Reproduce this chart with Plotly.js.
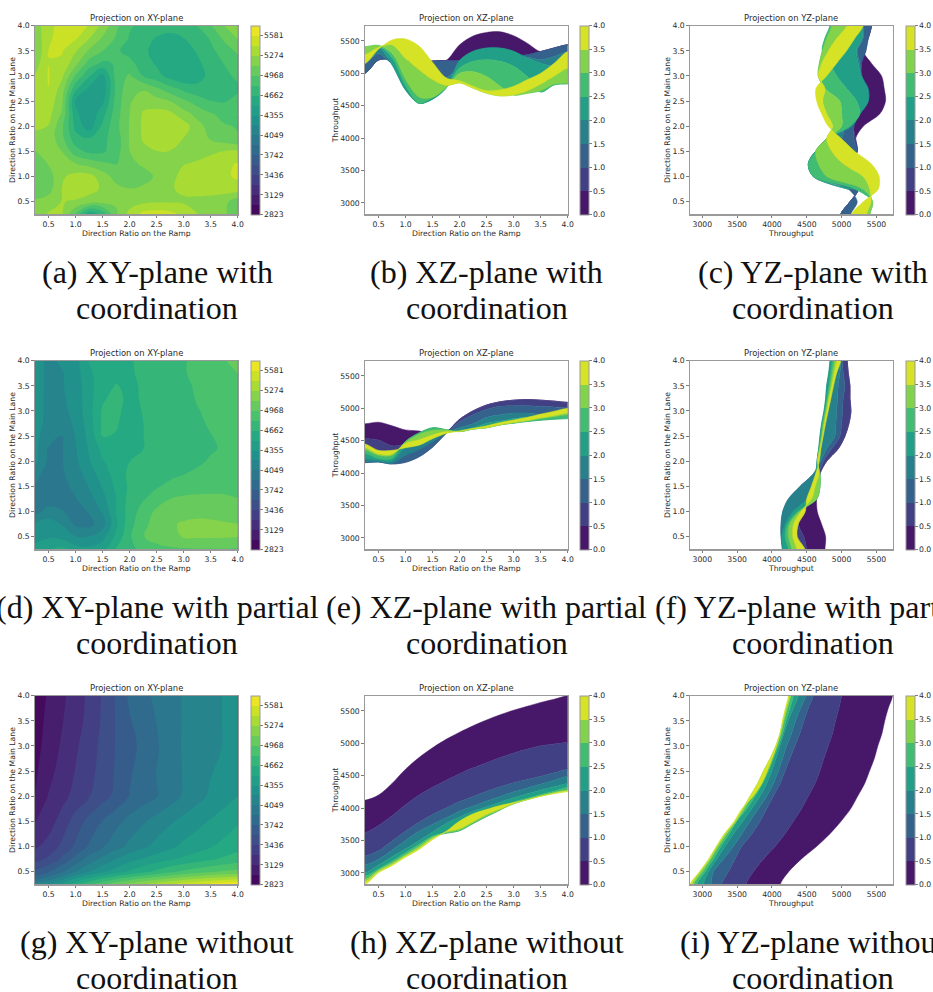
<!DOCTYPE html>
<html><head><meta charset="utf-8">
<script src="https://cdn.plot.ly/plotly-3.0.1.min.js"></script>
<style>html,body{margin:0;padding:0;background:#fff;overflow:hidden}</style></head>
<body><div id="chart" style="width:933px;height:992px"></div>
<script>
// ---------- shared axes and ticks ----------
const ratioGrid = [0.25,0.5,0.75,1,1.25,1.5,1.75,2,2.25,2.5,2.75,3,3.25,3.5,3.75,4];
const ratioTicks = [0.5,1,1.5,2,2.5,3,3.5,4];
const throughputTicks = [3000,3500,4000,4500,5000,5500];
const throughputRange = [2823,5734];
const xyBarTicks = [2823,3129.4,3436.3,3742.6,4049,4355.4,4661.9,4968.2,5274.6,5581];
const xyBarLabels = ['2823','3129','3436','3742','4049','4355','4662','4968','5274','5581'];
const levelBarTicks = [0,0.5,1,1.5,2,2.5,3,3.5,4];
const levelBarLabels = ['0.0','0.5','1.0','1.5','2.0','2.5','3.0','3.5','4.0'];

// ---------- row 1: with coordination ----------
const xyZ1 = [
[5200,5290,5290,4950,4520,4700,5100,5330,5480,5510,5480,5400,5280,5200,5150,5000],
[5150,5200,5280,5260,5200,5180,5140,5200,5240,5260,5260,5250,5240,5220,5170,5020],
[4990,5060,5280,5350,5330,5250,5170,5130,5160,5220,5260,5300,5320,5330,5340,5350],
[4990,5050,5250,5330,5330,5200,5060,4990,5040,5150,5240,5310,5350,5370,5400,5450],
[5000,5130,5180,5130,5070,5000,4960,5070,5150,5210,5240,5270,5290,5330,5390,5440],
[5110,5200,5120,4880,4780,4790,4900,5120,5230,5270,5270,5240,5230,5250,5280,5300],
[5220,5230,5010,4720,4680,4780,4880,5130,5290,5340,5320,5270,5180,5110,5040,4980],
[5300,5270,5000,4620,4420,4700,4920,5130,5300,5400,5400,5350,5180,5060,4980,4960],
[5330,5330,5100,4550,4380,4600,4900,5120,5290,5330,5310,5180,5070,4980,4930,4970],
[5340,5380,5150,4480,4370,4470,4880,5100,5220,5180,5120,5000,4900,4820,4800,4870],
[5300,5425,5210,4700,4480,4400,4850,5080,5100,4990,4870,4770,4700,4680,4680,4780],
[5280,5440,5300,4950,4680,4450,4880,4990,4810,4720,4600,4530,4610,4700,4770,4850],
[5200,5425,5400,5170,4900,4780,4830,4860,4740,4640,4530,4515,4620,4750,4820,4900],
[5120,5430,5440,5290,5100,4970,4840,4760,4700,4600,4540,4570,4680,4780,4880,5000],
[5150,5400,5500,5450,5280,5100,4950,4800,4720,4650,4620,4660,4730,4830,5000,5130],
[5200,5370,5500,5510,5420,5230,5000,4830,4780,4740,4720,4750,4815,4950,5120,5220]];
const xzCurves1 = [
[5000,5205,5230,5200,5170,5190,5200,5440,5575,5630,5640,5580,5465,5335,5390,5440],
[5000,5205,5230,5200,5170,5190,5195,5200,5230,5260,5260,5260,5285,5335,5390,5440],
[5000,5205,5210,5200,5170,5185,5190,5190,5200,5230,5250,5270,5285,5335,5390,5440],
[5150,5300,5150,5050,4950,4950,4930,5100,5200,5250,5280,5280,5250,5210,5260,5335],
[5340,5400,5130,4740,4535,4600,4770,5200,5340,5390,5390,5340,5235,5155,5100,5000],
[5380,5420,5240,4800,4535,4620,4775,5080,5185,5210,5185,5110,4950,4710,4820,4835],
[5410,5430,5310,4900,4630,4625,4775,5000,5025,4950,4800,4665,4690,4730,4830,4845],
[5290,5400,5440,5230,5050,4900,4810,4850,4770,4690,4650,4665,4725,4830,4955,5075],
[5150,5370,5515,5530,5420,5170,4930,4885,4800,4730,4745,4800,4900,5000,5155,5335]];
const yzCurves1 = [
[4986,5120,5239,5120,5120,5225,5201,5311,5550,5631,5612,5574,5430,5311,5382,5430],
[4986,5120,5239,5120,5120,5225,5201,5177,5263,5382,5382,5287,5287,5311,5382,5430],
[4986,5120,5239,5120,5120,5225,5177,5177,5263,5382,5382,5287,5287,5349,5382,5430],
[5134,5225,5096,4594,4522,4627,5000,5048,5263,5382,5382,5287,5263,5225,5311,5311],
[null,null,5096,4594,4522,4627,4785,5143,5263,5382,5368,5287,5239,5215,5296,5296],
[5406,5445,5191,4594,4522,4627,4785,5120,5263,5215,5072,4928,4833,4723,4761,4833],
[5406,5445,5311,4785,4665,4627,4785,5000,5000,4976,4761,4665,4680,4723,4785,4857],
[5358,5421,5406,5311,5024,4857,4785,4871,4785,4728,4761,4665,4713,4809,4928,5072],
[5143,5311,5526,5540,5430,5191,5000,4809,4713,4642,4632,4785,4928,5072,5191,5311]];

// ---------- row 2: with partial coordination ----------
const xyZ2 = [
[4440,4500,4560,4430,4400,4450,4680,4780,4850,4920,4940,4950,4960,4960,4960,4950],
[4260,4330,4300,4210,4200,4300,4550,4790,4960,5030,5090,5130,5140,5140,5135,5125],
[4220,4270,4190,4020,4000,4130,4480,4760,4920,5040,5105,5135,5145,5145,5135,5125],
[3990,4110,4060,3990,4060,4220,4510,4730,4880,5000,5060,5080,5090,5080,5060,5020],
[3990,3960,3980,4040,4140,4300,4510,4720,4800,4890,4970,5000,5010,5000,4990,4970],
[4040,3970,4000,4090,4210,4370,4540,4690,4750,4800,4850,4880,4900,4920,4930,4940],
[4100,3990,4030,4120,4280,4430,4580,4690,4720,4750,4780,4810,4840,4860,4880,4900],
[4240,4020,4040,4170,4340,4500,4560,4660,4690,4720,4740,4760,4790,4830,4850,4880],
[4250,4040,4040,4190,4370,4550,4610,4540,4660,4700,4730,4750,4780,4800,4830,4870],
[4260,4100,4040,4210,4400,4670,4650,4560,4660,4700,4730,4750,4780,4810,4840,4860],
[4260,4160,4130,4230,4430,4690,4680,4580,4660,4710,4740,4770,4790,4830,4850,4870],
[4260,4170,4160,4250,4450,4680,4700,4600,4670,4720,4750,4780,4810,4830,4850,4870],
[4260,4170,4180,4260,4450,4640,4710,4620,4680,4720,4760,4790,4820,4840,4860,4880],
[4270,4170,4190,4270,4450,4610,4670,4630,4680,4720,4760,4790,4830,4860,4880,4900],
[4280,4160,4190,4280,4480,4580,4620,4650,4680,4720,4760,4800,4860,4890,4920,4970],
[4290,4160,4230,4300,4520,4570,4610,4650,4690,4730,4770,4810,4830,4880,4960,5010]];
const xzCurves2 = [
[4760,4785,4730,4665,4650,4600,4630,4830,4960,5050,5100,5125,5135,5125,5110,5090],
[4530,4510,4420,4450,4500,4550,4630,4830,4960,5050,5100,5125,5135,5125,5110,5090],
[4160,4170,4140,4165,4250,4400,4610,4790,4900,4980,5030,5040,5040,5030,5020,5010],
[4165,4175,4145,4270,4360,4480,4615,4700,4760,4860,4900,4925,4925,4900,4885,4900],
[4220,4190,4180,4390,4430,4530,4620,4660,4700,4770,4805,4840,4860,4870,4870,4870],
[4300,4220,4220,4490,4620,4700,4670,4640,4680,4700,4745,4770,4795,4815,4830,4840],
[4360,4270,4270,4480,4600,4660,4665,4640,4680,4700,4745,4775,4805,4840,4870,4900],
[4390,4290,4290,4460,4515,4590,4640,4640,4680,4700,4745,4780,4810,4850,4885,4925],
[4450,4350,4350,4390,4430,4530,4610,4650,4690,4730,4780,4820,4860,4910,4955,5000]];
const yzCurves2 = [
[4761,4771,4713,4651,4642,4675,4689,4785,4952,5048,5105,5134,5120,5120,5096,5081],
[4498,4460,4379,4403,4546,4675,4689,4785,4952,5048,5105,5134,5120,5120,5096,5081],
[4379,4355,4355,4379,4498,4565,4665,4737,4857,4976,5000,5014,5024,5048,5024,5014],
[4149,4130,4130,4154,4235,4403,4594,4699,4785,4904,4919,4928,4943,4952,4976,4990],
[4154,4140,4187,4297,4498,4565,4627,4646,4670,4689,4713,4747,4771,4785,4814,4833],
[4235,4187,4221,4364,4642,4689,4689,4651,4675,4704,4723,4761,4790,4818,4842,4866],
[4283,4235,4250,4393,4642,4689,4689,4653,4684,4713,4737,4771,4804,4837,4866,4895],
[4355,4297,4307,4412,4570,4622,4675,4656,4689,4723,4751,4785,4818,4857,4890,4928],
[4474,4364,4379,4479,4498,4565,4627,4680,4704,4737,4771,4809,4847,4885,4928,4990]];

// ---------- row 3: without coordination ----------
const xyY3 = [0.25,0.375,0.5,0.75,1,1.5,2,2.5,3,3.5,4];
const xyZ3 = [
[4120,4200,4380,4600,4780,4930,5060,5170,5270,5360,5440,5510,5570,5630,5680,5734],
[3800,3950,4120,4330,4500,4640,4760,4860,4950,5030,5100,5170,5230,5280,5320,5350],
[3620,3730,3880,4050,4200,4320,4430,4530,4620,4700,4780,4850,4900,4950,4990,5010],
[3380,3470,3620,3800,3960,4090,4200,4300,4370,4430,4490,4540,4590,4640,4690,4740],
[3260,3340,3470,3620,3760,3880,3990,4090,4170,4250,4320,4390,4440,4500,4550,4600],
[3120,3210,3350,3500,3640,3750,3850,3950,4030,4110,4180,4250,4310,4370,4430,4490],
[2980,3140,3230,3340,3430,3530,3630,3750,3820,3890,3980,4070,4150,4230,4290,4355],
[2950,3080,3190,3290,3390,3490,3610,3720,3820,3900,3980,4060,4130,4190,4250,4300],
[2920,3040,3150,3260,3360,3480,3600,3690,3790,3875,4000,4060,4110,4160,4210,4255],
[2900,3020,3120,3220,3330,3460,3600,3730,3810,3900,3990,4060,4110,4160,4210,4255],
[2870,3000,3100,3200,3320,3450,3610,3770,3850,3930,4000,4060,4110,4160,4210,4260]];
const xzCurves3 = [
[4120,4200,4380,4600,4780,4930,5060,5170,5270,5360,5440,5510,5570,5630,5680,5734],
[3620,3730,3880,4050,4200,4320,4430,4530,4620,4700,4780,4850,4910,4960,4990,5010],
[3260,3340,3490,3640,3780,3900,4000,4100,4180,4260,4330,4390,4440,4490,4545,4600],
[3120,3210,3350,3500,3640,3750,3850,3950,4030,4110,4180,4250,4310,4370,4430,4490],
[3000,3120,3250,3370,3500,3630,3760,3860,3950,4020,4090,4160,4220,4280,4330,4380],
[2950,3060,3180,3310,3440,3570,3610,3650,3760,3870,3970,4090,4150,4210,4260,4320],
[2900,3040,3150,3280,3410,3550,3620,3660,3770,3880,3975,4065,4130,4190,4240,4280],
[2860,3020,3130,3260,3380,3530,3630,3680,3790,3900,3985,4070,4130,4185,4230,4265],
[2823,3000,3110,3240,3360,3510,3640,3800,3910,3980,4040,4085,4130,4180,4220,4250]];
const yzCurves3 = [
[4120,4240,4420,4640,4830,4990,5130,5230,5330,5400,5470,5520,5580,5620,5670,5734],
[3628,3733,3877,4044,4187,4307,4426,4522,4618,4689,4747,4809,4871,4914,4962,5000],
[3279,3375,3470,3566,3710,3829,3925,4020,4116,4187,4259,4331,4402,4460,4522,4594],
[3126,3160,3303,3446,3566,3685,3805,3925,4020,4092,4154,4211,4283,4340,4412,4484],
[3016,3088,3207,3327,3446,3580,3710,3829,3925,3996,4058,4116,4173,4235,4307,4379],
[2920,3040,3160,3265,3385,3494,3638,3757,3862,3948,4020,4092,4154,4202,4259,4307],
[2873,3002,3121,3231,3351,3485,3604,3710,3820,3915,3996,4068,4130,4173,4221,4269],
[2850,2968,3102,3207,3327,3470,3580,3685,3791,3877,3972,4054,4116,4159,4202,4250],
[2823,2959,3088,3198,3313,3456,3566,3733,3853,3934,4006,4068,4116,4149,4192,4235]];

// ---------- captions ----------
const rowLine1 = [
 ['(a) XY-plane with','(b) XZ-plane with','(c) YZ-plane with'],
 ['(d) XY-plane with partial','(e) XZ-plane with partial','(f) YZ-plane with partial'],
 ['(g) XY-plane without','(h) XZ-plane without','(i) YZ-plane without']];
const captionLine2 = 'coordination';
const panelTitles = ['Projection on XY-plane','Projection on XZ-plane','Projection on YZ-plane'];
const xLabels = ['Direction Ratio on the Ramp','Direction Ratio on the Ramp','Throughput'];
const yLabels = ['Direction Ratio on the Main Lane','Throughput','Direction Ratio on the Main Lane'];

// ---------- colours ----------
const viridisStops = ['#440154','#482475','#414487','#355f8d','#2a788e','#21918c','#22a884','#44bf70','#7ad151','#bddf26','#fde725'];
function viridis(t){
  const p=Math.min(t,0.99999)*10,i=Math.floor(p),f=p-i;
  const h=s=>[1,3,5].map(k=>parseInt(s.substr(k,2),16));
  const a=h(viridisStops[i]),b=h(viridisStops[i+1]);
  return 'rgb('+a.map((v,k)=>Math.round(v+(b[k]-v)*f)).join(',')+')';
}
const W=933,H=992;
const colL=[35,365,690],colW=202.7;
const barL=[250.7,580,905.7],barW=8.8;
const rowT=[25.7,360.7,695.7],rowH=188.6;
const capCx=[157,487,813],capY1=[272,607,942],capY2=[307.5,642.5,977.5];
const FONT='"DejaVu Sans",sans-serif',TXT='#2a2a2a',SPINE='#9a9a9a';

const nXY=19, nB=8;
const xyScale=[];
for(let i=0;i<nXY;i++){const c=viridis((i+0.5)/nXY);xyScale.push([(i+1)/(nXY+1),c]);}
xyScale.unshift([0,viridis(0.5/nXY)]);
xyScale.push([1,viridis((nXY-0.5)/nXY)]);
const stepScale=(n)=>{const s=[];for(let i=0;i<n;i++){const c=viridis((i+0.5)/n);s.push([i/n,c]);s.push([(i+1)/n,c]);}return s;};
const bandColors=[];for(let i=0;i<nB;i++)bandColors.push(viridis((i+0.5)/nB));
const bandScale=stepScale(nB), xyBarScale=stepScale(nXY);

function barCfg(col,row,tv,tt){
  return {x:barL[col]/W,xanchor:'left',xpad:0,y:1-rowT[row]/H,yanchor:'top',ypad:0,
    thickness:barW,thicknessmode:'pixels',len:rowH/H,lenmode:'fraction',
    tickmode:'array',tickvals:tv,ticktext:tt,ticks:'outside',ticklen:2.5,tickwidth:0.7,tickcolor:'#444',
    tickfont:{family:FONT,size:7.7,color:TXT},outlinecolor:SPINE,outlinewidth:1,borderwidth:0};
}
const traces=[],layout={width:W,height:H,margin:{l:0,r:0,t:0,b:0},paper_bgcolor:'#fff',plot_bgcolor:'#fff',
  showlegend:false,hovermode:false,annotations:[]};

function axisCfg(dom,tv,fmt,range,title,anchor,standoff){
  return {domain:dom,range:range,anchor:anchor,tickmode:'array',tickvals:tv,ticktext:tv.map(fmt),
    ticks:'outside',ticklen:2.5,tickwidth:0.7,tickcolor:'#444',showgrid:false,zeroline:false,
    showline:true,mirror:true,linecolor:SPINE,linewidth:1.2,
    tickfont:{family:FONT,size:7.7,color:TXT},
    title:{text:title,font:{family:FONT,size:7.7,color:TXT},standoff:standoff},automargin:false};
}
const f1=v=>v.toFixed(1),f0=v=>String(v);

function scaleBar(xa,ya,cmin,cmax,scale,col,row,tv,tt){
  traces.push({type:'scatter',mode:'markers',x:[null],y:[null],xaxis:xa,yaxis:ya,hoverinfo:'skip',
    marker:{color:[cmin],cmin:cmin,cmax:cmax,colorscale:scale,showscale:true,colorbar:barCfg(col,row,tv,tt)}});
}
function addBands(curves,grid,xa,ya,horizontal,col,row){
  const last=grid.length-1;
  for(let k=0;k<nB;k++){
    const A=curves[k],B=curves[k+1],ga=[],va=[],gb=[],vb=[];
    const push=(g,a,b)=>{ga.push(g);va.push(a);gb.unshift(g);vb.unshift(b);};
    // the polygon's corners sit just outside the clipped axes so that the spline stays clean at the frame
    if(A[0]!==null&&B[0]!==null)push(grid[0]-0.25,A[0],B[0]);
    for(let j=0;j<=last;j++){
      if(A[j]===null||B[j]===null)continue;
      push(grid[j],A[j],B[j]);
    }
    push(grid[last]+0.25,A[last],B[last]);
    const g=ga.concat(gb),v=va.concat(vb);
    traces.push({type:'scatter',mode:'lines',line:{width:0.5,color:bandColors[k],shape:'spline',smoothing:0.9},fill:'toself',fillcolor:bandColors[k],
      x:horizontal?g:v,y:horizontal?v:g,xaxis:xa,yaxis:ya,hoverinfo:'skip'});
  }
  scaleBar(xa,ya,0,4,bandScale,col,row,levelBarTicks,levelBarLabels);
}

const xyData=[[xyZ1,ratioGrid],[xyZ2,ratioGrid],[xyZ3,xyY3]];
const xzData=[xzCurves1,xzCurves2,xzCurves3];
const yzData=[yzCurves1,yzCurves2,yzCurves3];
let n=1;
for(let r=0;r<3;r++){
  const yDom=[1-(rowT[r]+rowH)/H,1-rowT[r]/H];
  for(let c=0;c<3;c++,n++){
    const xn='x'+n,yn='y'+n;
    const xDom=[colL[c]/W,(colL[c]+colW)/W];
    const xIsT=c===2,yIsT=c===1;
    layout['xaxis'+n]=axisCfg(xDom,xIsT?throughputTicks:ratioTicks,xIsT?f0:f1,xIsT?throughputRange:[0.25,4],xLabels[c],yn,0.5);
    layout['yaxis'+n]=axisCfg(yDom,yIsT?throughputTicks:ratioTicks,yIsT?f0:f1,yIsT?throughputRange:[0.25,4],yLabels[c],xn,0);
    if(c===0){
      traces.push({type:'contour',x:ratioGrid,y:xyData[r][1],z:xyData[r][0],xaxis:xn,yaxis:yn,hoverinfo:'skip',
        autocontour:false,contours:{start:2823,end:5734,size:153.2,coloring:'fill',showlines:false},
        line:{width:0,smoothing:1.3},colorscale:xyScale,showscale:false});
      scaleBar(xn,yn,2823,5734,xyBarScale,c,r,xyBarTicks,xyBarLabels);
    } else if(c===1){
      addBands(xzData[r],ratioGrid,xn,yn,true,c,r);
    } else {
      addBands(yzData[r],ratioGrid,xn,yn,false,c,r);
    }
    const cx=(colL[c]+colW/2)/W;
    layout.annotations.push({xref:'paper',yref:'paper',x:cx,y:1-(rowT[r]-7.5)/H,xanchor:'center',yanchor:'middle',
      text:panelTitles[c],showarrow:false,font:{family:FONT,size:8.4,color:TXT}});
    layout.annotations.push({xref:'paper',yref:'paper',x:capCx[c]/W,y:1-capY1[r]/H,xanchor:'center',yanchor:'middle',
      text:rowLine1[r][c],showarrow:false,font:{family:'"Liberation Serif",serif',size:32,color:'#111'}});
    layout.annotations.push({xref:'paper',yref:'paper',x:capCx[c]/W,y:1-capY2[r]/H,xanchor:'center',yanchor:'middle',
      text:captionLine2,showarrow:false,font:{family:'"Liberation Serif",serif',size:32,color:'#111'}});
  }
}
Plotly.newPlot('chart',traces,layout,{displayModeBar:false,staticPlot:true});
</script></body></html>
